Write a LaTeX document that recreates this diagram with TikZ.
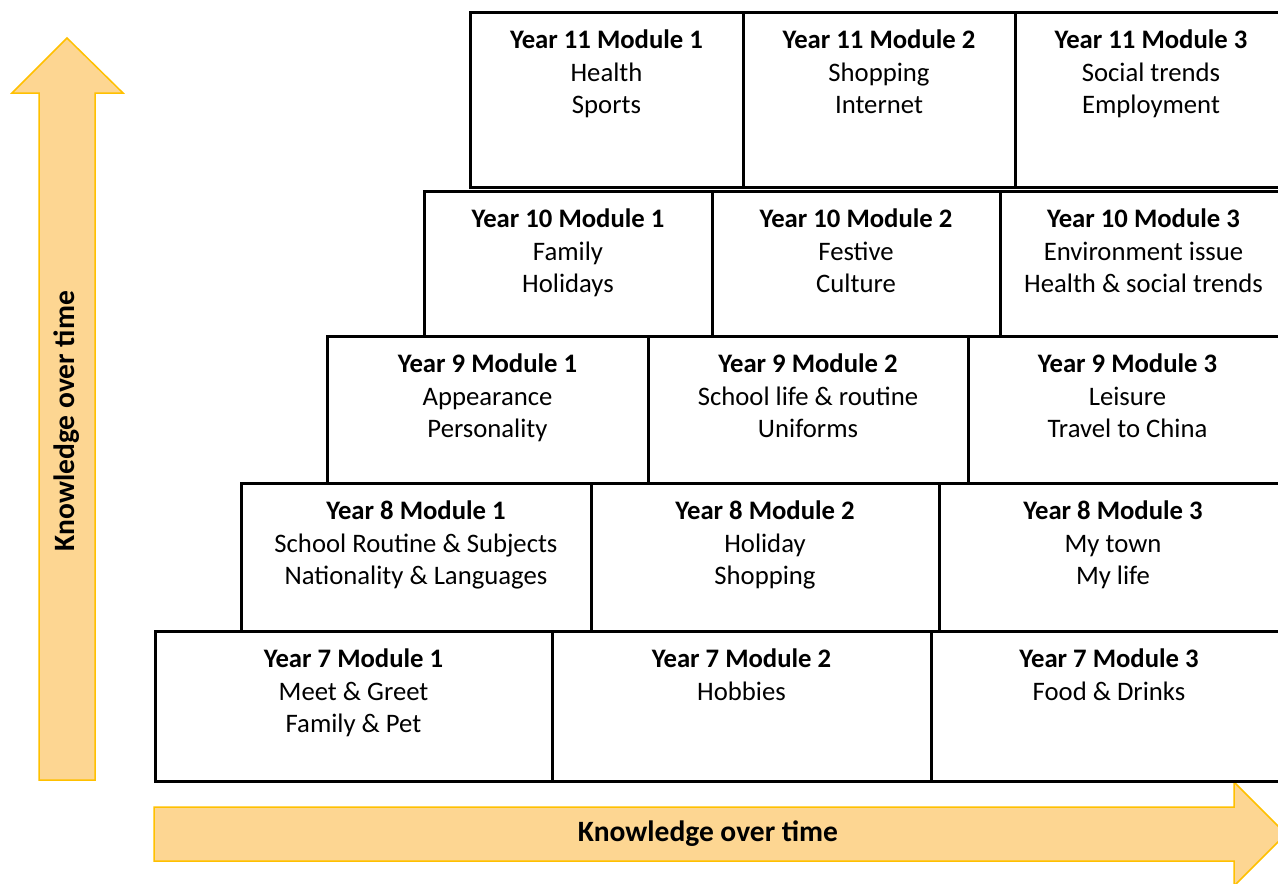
\documentclass[tikz,border=0pt]{standalone}
\usepackage{fontspec}
\setmainfont{Carlito}
\definecolor{arrfill}{HTML}{FDD692}
\definecolor{arrline}{HTML}{FFC000}
\tikzset{
  modframe/.style={draw=black, line width=3pt, rectangle, inner sep=0pt, outer sep=0pt, anchor=north west},
  modtext/.style={font=\fontsize{26.7}{32.2}\selectfont, align=center, inner sep=0pt, anchor=north, text=black},
  bigarrow/.style={fill=arrfill, draw=arrline, line width=1.5pt, line join=miter},
  arrlabel/.style={font=\fontsize{29.5}{34}\selectfont\bfseries, inner sep=0pt, text=black}
}
\newcommand\modulebox[7]{%
  \node[modframe, minimum width={(#4-#2)*1pt}, minimum height={(#5-#3)*1pt}] (#1) at (#2,#3) {};
  \node[modtext] (#1t) at ([yshift=-18pt]#1.north) {\textbf{#6}\\#7};
}
\begin{document}
\begin{tikzpicture}[x=1pt,y=-1pt]
\useasboundingbox (0,0) rectangle (1278,884);
% arrows
\draw[bigarrow] (39,780) -- (39,93) -- (12,93) -- (67,38) -- (123,93) -- (95,93) -- (95,780) -- cycle;
\draw[bigarrow] (154,807) -- (1234,807) -- (1234,782) -- (1286,834) -- (1234,886) -- (1234,861) -- (154,861) -- cycle;
\node[arrlabel, rotate=90] (kv) at (67,421) {Knowledge over time};
\node[arrlabel] (kh) at (708,834) {Knowledge over time};
% row 11
\modulebox{a1}{470}{12}{743}{187}{Year 11 Module 1}{Health\\Sports}
\modulebox{a2}{743}{12}{1015}{187}{Year 11 Module 2}{Shopping\\Internet}
\modulebox{a3}{1015}{12}{1287}{187}{Year 11 Module 3}{Social trends\\Employment}
% row 10
\modulebox{b1}{424}{191}{712}{336}{Year 10 Module 1}{Family\\Holidays}
\modulebox{b2}{712}{191}{1000}{336}{Year 10 Module 2}{Festive\\Culture}
\modulebox{b3}{1000}{191}{1287}{336}{Year 10 Module 3}{Environment issue\\Health \& social trends}
% row 9
\modulebox{c1}{327}{336}{648}{483}{Year 9 Module 1}{Appearance\\Personality}
\modulebox{c2}{648}{336}{968}{483}{Year 9 Module 2}{School life \& routine\\Uniforms}
\modulebox{c3}{968}{336}{1287}{483}{Year 9 Module 3}{Leisure\\Travel to China}
% row 8
\modulebox{d1}{241}{483}{591}{631}{Year 8 Module 1}{School Routine \& Subjects\\Nationality \& Languages}
\modulebox{d2}{591}{483}{939}{631}{Year 8 Module 2}{Holiday\\Shopping}
\modulebox{d3}{939}{483}{1287}{631}{Year 8 Module 3}{My town\\My life}
% row 7
\modulebox{e1}{155}{631}{552}{781}{Year 7 Module 1}{Meet \& Greet\\Family \& Pet}
\modulebox{e2}{552}{631}{931}{781}{Year 7 Module 2}{Hobbies}
\modulebox{e3}{931}{631}{1287}{781}{Year 7 Module 3}{Food \& Drinks}
\end{tikzpicture}
\end{document}
